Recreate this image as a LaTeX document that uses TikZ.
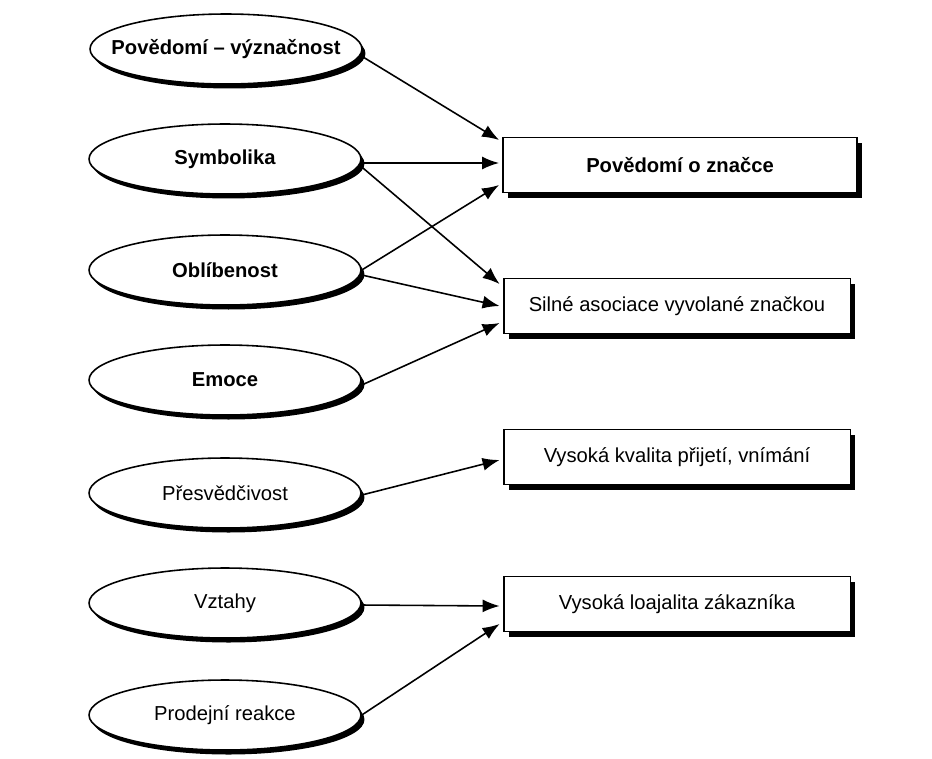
\documentclass[tikz,border=0pt]{standalone}
\usepackage{fontspec}
\setmainfont{Liberation Sans}
\usetikzlibrary{shapes.geometric,shadows,arrows.meta}
\tikzset{
  ell/.style={ellipse, draw=black, line width=0.9pt, fill=white,
    minimum width=5.44cm, minimum height=1.4cm, inner sep=0pt, inner xsep=-1.5cm,
    drop shadow={shadow xshift=0.07cm, shadow yshift=-0.09cm, opacity=1, fill=black},
    font=\fontsize{11.5}{13}\selectfont},
  boxn/.style={rectangle, draw=black, line width=1.1pt, fill=white,
    minimum width=6.94cm, minimum height=1.1cm, inner sep=0pt,
    drop shadow={shadow xshift=0.1cm, shadow yshift=-0.1cm, opacity=1, fill=black},
    font=\fontsize{11.5}{13}\selectfont},
  arr/.style={line width=0.9pt, -{Latex[length=0.34cm,width=0.26cm]}},
}
\begin{document}
\begin{tikzpicture}[x=0.02cm,y=-0.02cm]
\fill[white] (0,0) rectangle (932,758);
\useasboundingbox (0,0) rectangle (932,758);

\node[ell] (e1) at (226,49) {\bfseries Povědomí – význačnost};
\node[ell] (e2) at (225,159) {\bfseries Symbolika};
\node[ell] (e3) at (225,270) {\bfseries Oblíbenost};
\node[ell] (e4) at (225,380) {\bfseries Emoce};
\node[ell] (e5) at (225,493) {Přesvědčivost};
\node[ell] (e6) at (225,603) {Vztahy};
\node[ell] (e7) at (225,715) {Prodejní reakce};

\node[boxn, minimum width=7.08cm] (A) at (680,165) {\bfseries Povědomí o značce};
\node[boxn] (B) at (677,306) {Silné asociace vyvolané značkou};
\node[boxn] (C) at (677,457) {Vysoká kvalita přijetí, vnímání};
\node[boxn] (D) at (677,604) {Vysoká loajalita zákazníka};

\draw[arr] ([shift={(-3,6)}]e1.east) -- ([shift={(-3,-25)}]A.west);
\draw[arr] ([shift={(0,4)}]e2.east) -- ([shift={(-3,-2)}]A.west);
\draw[arr] ([shift={(0,0)}]e3.east) -- ([shift={(-3,20)}]A.west);
\draw[arr] ([shift={(0,8)}]e2.east) -- ([shift={(-3,-22)}]B.west);
\draw[arr] ([shift={(0,5)}]e3.east) -- ([shift={(-3,0)}]B.west);
\draw[arr] ([shift={(0,5)}]e4.east) -- ([shift={(-3,17)}]B.west);
\draw[arr] ([shift={(0,2)}]e5.east) -- ([shift={(-3,3)}]C.west);
\draw[arr] ([shift={(0,2)}]e6.east) -- ([shift={(-3,2)}]D.west);
\draw[arr] ([shift={(0,0)}]e7.east) -- ([shift={(-3,20)}]D.west);
\end{tikzpicture}
\end{document}
